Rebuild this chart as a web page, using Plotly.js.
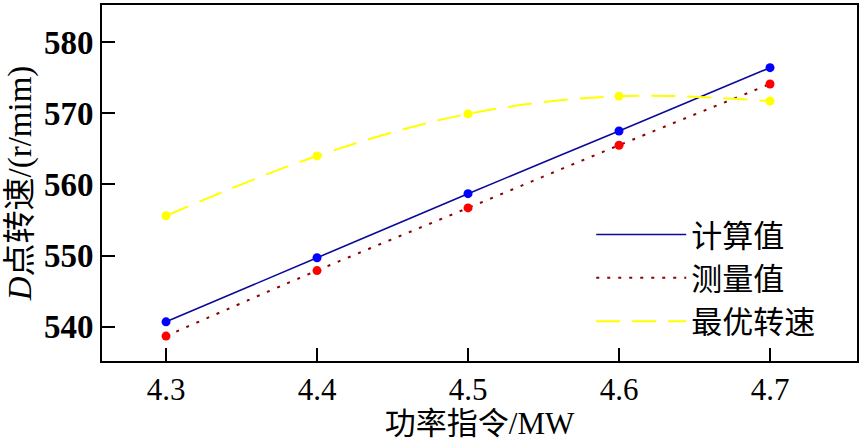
<!DOCTYPE html>
<html><head><meta charset="utf-8">
<script src="https://cdn.plot.ly/plotly-3.0.1.min.js"></script>
<style>body{margin:0;background:#fff}#chart{width:861px;height:441px}</style>
</head><body><div id="chart"></div>
<script>
const power = [4.3, 4.4, 4.5, 4.6, 4.7];
const calcValues = [540.7, 549.7, 558.7, 567.5, 576.4];
const measuredValues = [538.7, 547.9, 556.7, 565.5, 574.1];
const optimalValues = [555.6, 564.0, 569.9, 572.4, 571.7];
const seriesNames = ['计算值', '测量值', '最优转速'];
const xTicks = [4.3, 4.4, 4.5, 4.6, 4.7];
const yTicks = [540, 550, 560, 570, 580];

const serif = '"Liberation Serif", "Times New Roman", "Noto Sans CJK SC", serif';
const lineOpts = [
  {color: '#0a0a96', width: 1.6, dash: 'solid', shape: 'spline'},
  {color: '#8b0000', width: 2, dash: '3px,8px', shape: 'spline'},
  {color: '#ffff00', width: 2, dash: '24px,12px', shape: 'spline'}
];
const markerColors = ['#0000ff', '#ff0000', '#ffff00'];
const ys = [calcValues, measuredValues, optimalValues];

const traces = [];
ys.forEach((y, i) => {
  traces.push({x: power, y: y, mode: 'lines', name: seriesNames[i], line: lineOpts[i], showlegend: true});
});
ys.forEach((y, i) => {
  traces.push({x: power, y: y, mode: 'markers', showlegend: false, hoverinfo: 'skip',
    marker: {color: markerColors[i], size: 9}});
});

const layout = {
  width: 861, height: 441,
  margin: {l: 102, r: 4, t: 5, b: 80},
  paper_bgcolor: '#fff', plot_bgcolor: '#fff',
  font: {family: serif, color: '#000'},
  xaxis: {
    range: [4.2576, 4.7576], tickvals: xTicks, ticktext: xTicks.map(v => v.toFixed(1)),
    ticks: 'inside', ticklen: 13, tickwidth: 2, tickcolor: '#000',
    showline: true, linewidth: 2, linecolor: '#000', mirror: true,
    showgrid: false, zeroline: false,
    tickfont: {family: serif, size: 31},
    title: {text: '功率指令/MW', font: {family: serif, size: 31}, standoff: 4}
  },
  yaxis: {
    range: [535.2, 585.2], tickvals: yTicks,
    ticks: 'inside', ticklen: 13, tickwidth: 2, tickcolor: '#000',
    showline: true, linewidth: 2, linecolor: '#000', mirror: true,
    showgrid: false, zeroline: false,
    tickfont: {family: serif, size: 33, weight: 'bold'},
    title: {text: '<i>D</i>点转速/(r/mim)', font: {family: serif, size: 33}, standoff: 2}
  },
  legend: {
    x: 0.648, y: 0.43, xanchor: 'left', yanchor: 'top',
    bgcolor: 'rgba(0,0,0,0)', font: {family: serif, size: 31},
    itemwidth: 90, tracegroupgap: 0
  },
  showlegend: true
};
Plotly.newPlot('chart', traces, layout, {displayModeBar: false, staticPlot: true});
</script></body></html>
